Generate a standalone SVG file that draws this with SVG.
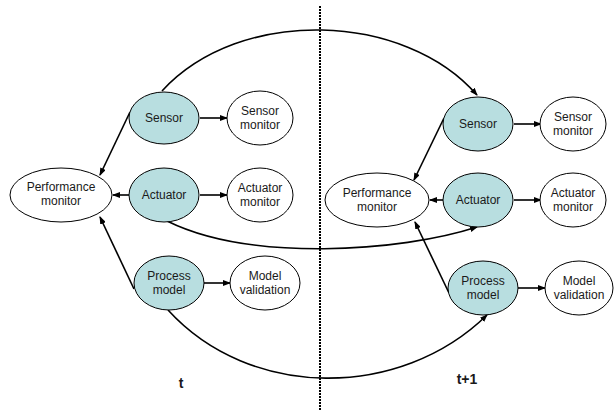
<svg xmlns="http://www.w3.org/2000/svg" width="616" height="410" viewBox="0 0 616 410">
  <style>
    .node { fill: #ffffff; stroke: #000000; stroke-width: 1; }
    .active { fill: #b8dee0; }
    .lbl { font-family: "Liberation Sans", Arial, sans-serif; font-size: 12px; fill: #1a1a1a; text-anchor: middle; }
    .time { font-family: "Liberation Sans", Arial, sans-serif; font-size: 14px; font-weight: bold; fill: #1a1a1a; text-anchor: middle; }
    .edge { fill: none; stroke: #000000; stroke-width: 1.6; marker-end: url(#arrow); }
    .divider { stroke: #000000; stroke-width: 2; stroke-dasharray: 2 1; }
  </style>
  <defs>
    <marker id="arrow" markerWidth="8" markerHeight="6" refX="7" refY="3" orient="auto" markerUnits="userSpaceOnUse">
      <path d="M0,0 L8,3 L0,6 z" fill="#000000"/>
    </marker>
  </defs>
  <rect width="616" height="410" fill="#ffffff"/>

  <!-- time-step divider -->
  <line class="divider" x1="320" y1="6" x2="320" y2="410"/>

  <!-- connectors -->
  <g id="connectors">
    <!-- step t -->
    <line class="edge" x1="200" y1="118" x2="227" y2="118"/>
    <line class="edge" x1="200" y1="195" x2="227" y2="195"/>
    <line class="edge" x1="204" y1="283" x2="230" y2="283"/>
    <line class="edge" x1="129" y1="195" x2="113" y2="195"/>
    <line class="edge" x1="130" y1="112" x2="100" y2="175"/>
    <line class="edge" x1="134" y1="289" x2="100" y2="217"/>
    <!-- step t+1 -->
    <line class="edge" x1="514" y1="124" x2="541" y2="124"/>
    <line class="edge" x1="514" y1="200" x2="541" y2="200"/>
    <line class="edge" x1="518" y1="288" x2="545" y2="288"/>
    <line class="edge" x1="443" y1="200" x2="430" y2="200"/>
    <line class="edge" x1="444" y1="118" x2="414" y2="180"/>
    <line class="edge" x1="449" y1="293" x2="415" y2="222"/>
    <!-- links across steps -->
    <path class="edge" d="M162,91 C240,6 405,12 477,95"/>
    <path class="edge" d="M167,221 C250,262 400,252 477,227"/>
    <path class="edge" d="M168,310 C250,400 400,400 487,315"/>
  </g>

  <!-- nodes at step t -->
  <g id="perf-monitor-t">
    <ellipse class="node" cx="61" cy="195" rx="51" ry="27"/>
    <text class="lbl" x="61" y="191">Performance</text>
    <text class="lbl" x="61" y="205">monitor</text>
  </g>
  <g id="sensor-t">
    <ellipse class="node active" cx="164" cy="118" rx="35" ry="26"/>
    <text class="lbl" x="164" y="122">Sensor</text>
  </g>
  <g id="sensor-monitor-t">
    <ellipse class="node" cx="260" cy="118" rx="33" ry="27"/>
    <text class="lbl" x="260" y="115">Sensor</text>
    <text class="lbl" x="260" y="129">monitor</text>
  </g>
  <g id="actuator-t">
    <ellipse class="node active" cx="164" cy="195" rx="35" ry="27"/>
    <text class="lbl" x="164" y="199">Actuator</text>
  </g>
  <g id="actuator-monitor-t">
    <ellipse class="node" cx="260" cy="195" rx="33" ry="27"/>
    <text class="lbl" x="260" y="192">Actuator</text>
    <text class="lbl" x="260" y="206">monitor</text>
  </g>
  <g id="process-model-t">
    <ellipse class="node active" cx="169" cy="283" rx="35" ry="27"/>
    <text class="lbl" x="169" y="280">Process</text>
    <text class="lbl" x="169" y="294">model</text>
  </g>
  <g id="model-validation-t">
    <ellipse class="node" cx="265" cy="283" rx="35" ry="27"/>
    <text class="lbl" x="265" y="280">Model</text>
    <text class="lbl" x="265" y="294">validation</text>
  </g>

  <!-- nodes at step t+1 -->
  <g id="perf-monitor-t1">
    <ellipse class="node" cx="377" cy="200" rx="52" ry="27"/>
    <text class="lbl" x="377" y="197">Performance</text>
    <text class="lbl" x="377" y="211">monitor</text>
  </g>
  <g id="sensor-t1">
    <ellipse class="node active" cx="478" cy="124" rx="35" ry="27"/>
    <text class="lbl" x="478" y="128">Sensor</text>
  </g>
  <g id="sensor-monitor-t1">
    <ellipse class="node" cx="573" cy="124" rx="33" ry="27"/>
    <text class="lbl" x="573" y="121">Sensor</text>
    <text class="lbl" x="573" y="135">monitor</text>
  </g>
  <g id="actuator-t1">
    <ellipse class="node active" cx="478" cy="200" rx="35" ry="27"/>
    <text class="lbl" x="478" y="204">Actuator</text>
  </g>
  <g id="actuator-monitor-t1">
    <ellipse class="node" cx="573" cy="200" rx="33" ry="27"/>
    <text class="lbl" x="573" y="197">Actuator</text>
    <text class="lbl" x="573" y="211">monitor</text>
  </g>
  <g id="process-model-t1">
    <ellipse class="node active" cx="483" cy="288" rx="35" ry="27"/>
    <text class="lbl" x="483" y="285">Process</text>
    <text class="lbl" x="483" y="299">model</text>
  </g>
  <g id="model-validation-t1">
    <ellipse class="node" cx="579" cy="288" rx="34" ry="27"/>
    <text class="lbl" x="579" y="285">Model</text>
    <text class="lbl" x="579" y="299">validation</text>
  </g>

  <!-- time-step labels -->
  <text class="time" x="181" y="388">t</text>
  <text class="time" x="467" y="384">t+1</text>
</svg>
